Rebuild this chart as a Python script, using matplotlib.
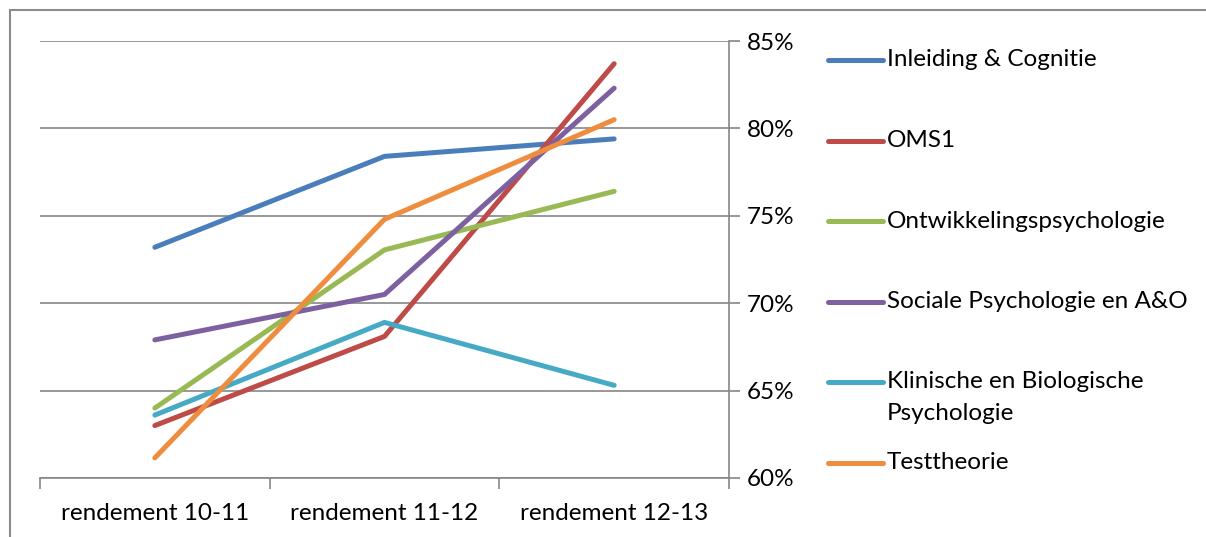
import numpy as np
import matplotlib
matplotlib.use('Agg')
import matplotlib.pyplot as plt
from matplotlib.lines import Line2D
from matplotlib.patches import Rectangle

# Data
categories = ['rendement 10-11', 'rendement 11-12', 'rendement 12-13']
series_names = ['Inleiding & Cognitie', 'OMS1', 'Ontwikkelingspsychologie',
                'Sociale Psychologie en A&O', 'Klinische en Biologische\nPsychologie',
                'Testtheorie']
inleiding = [73.2, 78.4, 79.4]
oms1 = [63.0, 68.1, 83.7]
ontwikkeling = [64.0, 73.05, 76.4]
sociale = [67.9, 70.5, 82.3]
klinische = [63.6, 68.9, 65.3]
testtheorie = [61.15, 74.8, 80.5]
yticks = [60, 65, 70, 75, 80, 85]
ytick_labels = ['60%', '65%', '70%', '75%', '80%', '85%']

colors = ['#4A7EBB', '#BE4B48', '#98B954', '#7D60A0', '#46AAC5', '#EE8D3E']
all_series = [inleiding, oms1, ontwikkeling, sociale, klinische, testtheorie]

plt.rcParams['font.family'] = ['Lato', 'DejaVu Sans']
W, H = 1206, 537
fs = 17.5
fig = plt.figure(figsize=(W / 100, H / 100), dpi=100)
ax = fig.add_axes([40 / W, 1 - 478 / H, (729 - 40) / W, (478 - 41) / H])

grey = '#868686'
x = np.arange(len(categories))
for vals, c in zip(all_series, colors):
    ax.plot(x, vals, color=c, linewidth=3.6, solid_capstyle='round', zorder=3)

ax.set_xlim(-0.5, 2.5)
ax.set_ylim(60, 85)
ax.set_yticks(yticks)
ax.set_yticklabels(ytick_labels)
ax.yaxis.tick_right()
ax.grid(axis='y', color=grey, linewidth=1.2)
ax.set_axisbelow(True)

# category ticks at boundaries, labels in the middle
ax.set_xticks([-0.5, 0.5, 1.5, 2.5])
ax.set_xticklabels([])
ax.set_xticks(x, minor=True)
ax.set_xticklabels(categories, minor=True)
ax.tick_params(axis='x', which='major', length=8, color=grey, width=1.2, direction='out')
ax.tick_params(axis='x', which='minor', length=0, pad=18, labelsize=fs)
ax.tick_params(axis='y', length=8, color=grey, width=1.2, pad=5, labelsize=fs)

for s in ['left', 'top']:
    ax.spines[s].set_visible(False)
for s in ['bottom', 'right']:
    ax.spines[s].set_color(grey)
    ax.spines[s].set_linewidth(1.2)

# outer chart border
fig.patches.append(Rectangle((10 / W, -0.1), 1.2, 1 - 10 / H + 0.1, transform=fig.transFigure,
                             fill=False, edgecolor='#8c8c8c', linewidth=1.5))

# legend, drawn by hand so the wrapped label keeps its handle on the first line
for i, (name, c) in enumerate(zip(series_names, colors)):
    ypx = 60 + i * 80.5
    fig.add_artist(Line2D([828 / W, 883 / W], [1 - ypx / H, 1 - ypx / H], color=c,
                          linewidth=3.6, solid_capstyle='round', transform=fig.transFigure))
    for k, line in enumerate(name.split('\n')):
        fig.text(887 / W, 1 - (ypx + k * 32) / H, line, fontsize=fs, va='center', ha='left')

fig.savefig('out.png', dpi=100)
